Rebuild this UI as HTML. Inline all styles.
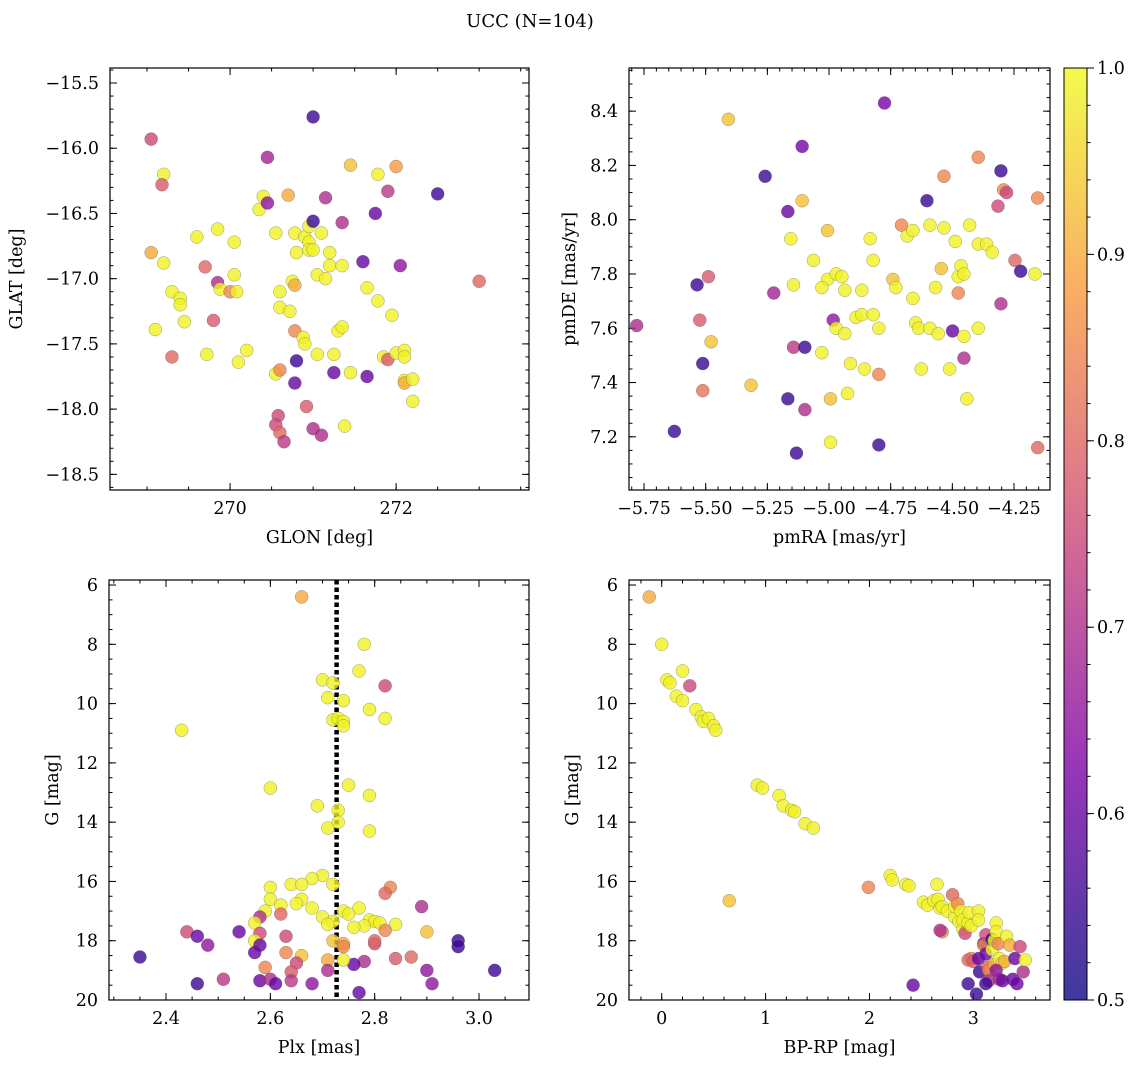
<!DOCTYPE html>
<html><head><meta charset="utf-8"><style>
html,body{margin:0;padding:0;background:#fff;}
svg{display:block;font-family:"DejaVu Serif","Liberation Serif",serif;}
</style></head><body>
<svg id="fig" width="1136" height="1067" viewBox="0 0 1136 1067" xmlns="http://www.w3.org/2000/svg">
<rect width="1136" height="1067" fill="#fff"/>
<text x="530" y="27" font-size="18" text-anchor="middle">UCC (N=104)</text>
</svg>
<script>
// ---- data arrays: [x, y, membership probability] ----
const glonGlat = [[269.05,-15.93,0.75],[269.2,-16.2,0.99],[269.18,-16.28,0.78],[269.05,-16.8,0.9],[269.2,-16.88,0.99],[269.3,-17.1,0.99],[269.4,-17.15,0.99],[269.4,-17.2,0.99],[269.1,-17.39,0.99],[269.3,-17.6,0.8],[269.45,-17.33,0.99],[269.6,-16.68,0.99],[269.7,-16.91,0.8],[269.72,-17.58,0.99],[269.85,-16.62,0.99],[269.85,-17.03,0.7],[269.88,-17.08,0.99],[269.8,-17.32,0.78],[270.0,-17.1,0.85],[270.05,-16.72,0.99],[270.05,-16.97,0.99],[270.08,-17.1,0.99],[270.1,-17.64,0.99],[270.2,-17.55,0.99],[270.35,-16.47,0.99],[270.4,-16.37,0.99],[270.45,-16.42,0.65],[270.45,-16.07,0.68],[270.55,-16.65,0.99],[270.6,-17.1,0.99],[270.6,-17.22,0.99],[270.55,-17.73,0.99],[270.6,-17.7,0.85],[270.58,-18.05,0.75],[270.55,-18.12,0.75],[270.6,-18.18,0.8],[270.65,-18.25,0.72],[270.7,-16.36,0.9],[270.72,-17.25,0.99],[270.75,-17.02,0.99],[270.78,-17.05,0.9],[270.78,-16.65,0.99],[270.8,-16.8,0.99],[270.78,-17.4,0.85],[270.8,-17.63,0.55],[270.78,-17.8,0.6],[270.88,-17.45,0.99],[270.9,-17.5,0.99],[270.9,-16.68,0.99],[270.95,-16.72,0.99],[270.95,-16.6,0.99],[270.95,-16.78,0.99],[271.0,-16.78,0.99],[270.92,-17.98,0.78],[271.0,-16.56,0.55],[271.0,-15.76,0.55],[271.0,-18.15,0.7],[271.05,-16.97,0.99],[271.05,-17.58,0.99],[271.1,-18.2,0.7],[271.1,-16.65,0.99],[271.15,-17.0,0.99],[271.2,-16.9,0.99],[271.2,-16.8,0.99],[271.15,-16.38,0.7],[271.25,-17.58,0.99],[271.25,-17.72,0.6],[271.3,-17.4,0.99],[271.35,-17.37,0.99],[271.35,-16.57,0.7],[271.35,-16.9,0.99],[271.38,-18.13,0.99],[271.45,-16.13,0.93],[271.45,-17.72,0.99],[271.6,-16.87,0.6],[271.65,-17.07,0.99],[271.65,-17.75,0.6],[271.75,-16.5,0.6],[271.78,-16.2,0.99],[271.78,-17.17,0.99],[271.85,-17.6,0.99],[271.9,-17.62,0.78],[271.9,-16.33,0.72],[271.95,-17.28,0.99],[272.0,-16.14,0.88],[272.0,-17.57,0.99],[272.05,-16.9,0.65],[272.1,-17.55,0.99],[272.1,-17.6,0.99],[272.1,-17.78,0.99],[272.1,-17.8,0.9],[272.2,-17.77,0.99],[272.2,-17.94,0.99],[272.5,-16.35,0.55],[273.0,-17.02,0.8]];
const pmraPmde = [[-5.78,7.61,0.7],[-5.627,7.22,0.55],[-5.535,7.76,0.55],[-5.512,7.47,0.55],[-5.524,7.63,0.78],[-5.512,7.37,0.82],[-5.489,7.79,0.78],[-5.478,7.55,0.93],[-5.408,8.37,0.93],[-5.316,7.39,0.93],[-5.259,8.16,0.55],[-5.224,7.73,0.68],[-5.167,8.03,0.6],[-5.155,7.93,0.99],[-5.144,7.76,0.99],[-5.144,7.53,0.72],[-5.167,7.34,0.55],[-5.109,8.27,0.62],[-5.109,8.07,0.93],[-5.098,7.53,0.55],[-5.098,7.3,0.7],[-5.132,7.14,0.55],[-5.063,7.85,0.99],[-5.006,7.78,0.99],[-4.983,7.63,0.65],[-5.029,7.75,0.99],[-5.006,7.96,0.93],[-4.971,7.8,0.99],[-4.971,7.6,0.99],[-5.029,7.51,0.99],[-4.994,7.34,0.93],[-4.994,7.18,0.99],[-4.948,7.79,0.99],[-4.936,7.74,0.99],[-4.936,7.58,0.99],[-4.925,7.36,0.99],[-4.913,7.47,0.99],[-4.890,7.64,0.99],[-4.867,7.65,0.99],[-4.867,7.74,0.99],[-4.856,7.45,0.99],[-4.833,7.93,0.99],[-4.821,7.85,0.99],[-4.821,7.65,0.99],[-4.798,7.6,0.99],[-4.798,7.43,0.85],[-4.798,7.17,0.55],[-4.775,8.43,0.62],[-4.741,7.78,0.93],[-4.729,7.75,0.99],[-4.706,7.98,0.85],[-4.683,7.94,0.99],[-4.660,7.96,0.99],[-4.660,7.71,0.99],[-4.649,7.62,0.99],[-4.637,7.6,0.99],[-4.626,7.45,0.99],[-4.603,8.07,0.55],[-4.591,7.98,0.99],[-4.591,7.6,0.99],[-4.568,7.75,0.99],[-4.557,7.58,0.99],[-4.545,7.82,0.93],[-4.534,7.97,0.99],[-4.534,8.16,0.85],[-4.511,7.45,0.99],[-4.499,7.59,0.6],[-4.488,7.92,0.99],[-4.476,7.73,0.85],[-4.476,7.79,0.99],[-4.465,7.83,0.99],[-4.453,7.8,0.99],[-4.453,7.57,0.99],[-4.453,7.49,0.7],[-4.441,7.34,0.99],[-4.430,7.98,0.99],[-4.395,7.91,0.99],[-4.395,8.23,0.85],[-4.395,7.6,0.99],[-4.361,7.91,0.99],[-4.338,7.88,0.99],[-4.315,8.05,0.75],[-4.303,7.69,0.7],[-4.303,8.18,0.55],[-4.292,8.11,0.85],[-4.280,8.1,0.75],[-4.246,7.85,0.8],[-4.154,8.08,0.85],[-4.223,7.81,0.55],[-4.165,7.8,0.99],[-4.154,7.16,0.8]];
const plxG = [[2.66,6.4,0.9],[2.78,8.0,0.99],[2.77,8.9,0.99],[2.7,9.2,0.99],[2.72,9.3,0.99],[2.82,9.4,0.75],[2.71,9.8,0.99],[2.74,9.9,0.99],[2.79,10.2,0.99],[2.82,10.5,0.99],[2.72,10.55,0.99],[2.73,10.5,0.99],[2.74,10.6,0.99],[2.74,10.75,0.99],[2.43,10.9,0.99],[2.75,12.75,0.99],[2.6,12.85,0.99],[2.79,13.1,0.99],[2.69,13.45,0.99],[2.73,13.6,0.99],[2.73,14.0,0.99],[2.71,14.2,0.99],[2.79,14.3,0.99],[2.7,15.8,0.99],[2.68,15.9,0.99],[2.72,16.1,0.99],[2.64,16.1,0.99],[2.66,16.1,0.99],[2.6,16.2,0.99],[2.83,16.2,0.85],[2.82,16.4,0.8],[2.6,16.6,0.99],[2.66,16.6,0.99],[2.65,16.75,0.99],[2.62,16.8,0.99],[2.68,16.9,0.99],[2.77,16.9,0.99],[2.74,17.0,0.99],[2.75,17.1,0.99],[2.59,17.0,0.99],[2.58,17.2,0.7],[2.62,17.1,0.8],[2.7,17.2,0.99],[2.72,17.35,0.99],[2.71,17.45,0.99],[2.79,17.3,0.99],[2.8,17.35,0.99],[2.78,17.5,0.99],[2.81,17.4,0.99],[2.84,17.45,0.99],[2.76,17.55,0.99],[2.57,17.4,0.99],[2.44,17.7,0.75],[2.46,17.85,0.6],[2.54,17.7,0.6],[2.58,17.75,0.75],[2.63,17.85,0.75],[2.48,18.15,0.65],[2.57,18.0,0.99],[2.58,18.15,0.6],[2.57,18.4,0.6],[2.63,18.4,0.85],[2.66,18.5,0.93],[2.72,18.0,0.93],[2.74,18.1,0.9],[2.74,18.2,0.85],[2.8,18.1,0.75],[2.8,18.0,0.8],[2.82,17.65,0.85],[2.84,18.6,0.78],[2.78,18.7,0.7],[2.76,18.8,0.6],[2.74,18.65,0.99],[2.71,18.65,0.9],[2.65,18.75,0.75],[2.59,18.9,0.85],[2.64,19.05,0.78],[2.64,19.35,0.72],[2.68,19.45,0.65],[2.71,19.0,0.7],[2.58,19.35,0.6],[2.6,19.3,0.7],[2.61,19.45,0.6],[2.51,19.3,0.72],[2.46,19.45,0.55],[2.35,18.55,0.55],[2.77,19.75,0.6],[2.89,16.85,0.7],[2.9,17.7,0.93],[2.87,18.55,0.8],[2.9,19.0,0.65],[2.91,19.45,0.65],[2.96,18.0,0.55],[2.96,18.2,0.55],[3.03,19.0,0.55]];
const bprpG = [[-0.12,6.4,0.9],[0.0,8.0,0.99],[0.2,8.9,0.99],[0.05,9.2,0.99],[0.08,9.3,0.99],[0.27,9.4,0.75],[0.14,9.75,0.99],[0.2,9.9,0.99],[0.33,10.2,0.99],[0.38,10.45,0.99],[0.4,10.6,0.99],[0.45,10.5,0.99],[0.5,10.75,0.99],[0.52,10.9,0.99],[0.92,12.75,0.99],[0.97,12.85,0.99],[1.13,13.1,0.99],[1.17,13.45,0.99],[1.25,13.6,0.99],[1.28,13.65,0.99],[1.38,14.05,0.99],[1.46,14.2,0.99],[0.65,16.65,0.93],[1.99,16.2,0.85],[2.2,15.8,0.99],[2.22,15.95,0.99],[2.35,16.1,0.99],[2.38,16.15,0.99],[2.42,19.5,0.6],[2.52,16.7,0.99],[2.56,16.8,0.99],[2.62,16.65,0.99],[2.65,16.1,0.99],[2.66,16.6,0.99],[2.68,16.9,0.99],[2.7,16.85,0.99],[2.7,17.7,0.85],[2.68,17.65,0.7],[2.75,17.0,0.99],[2.8,16.45,0.8],[2.82,17.2,0.99],[2.82,16.85,0.99],[2.85,16.75,0.85],[2.86,17.35,0.99],[2.88,17.0,0.99],[2.9,17.6,0.99],[2.9,17.3,0.99],[2.92,17.75,0.75],[2.95,17.4,0.99],[2.98,17.5,0.99],[2.96,17.05,0.99],[2.98,18.6,0.85],[2.95,18.65,0.8],[3.0,18.7,0.78],[2.95,19.45,0.55],[3.03,19.8,0.55],[3.05,17.0,0.99],[3.05,17.3,0.99],[3.05,18.6,0.6],[3.06,19.05,0.55],[3.1,18.1,0.55],[3.1,18.15,0.85],[3.12,18.45,0.6],[3.12,17.8,0.75],[3.14,18.9,0.8],[3.15,19.0,0.85],[3.15,19.35,0.7],[3.18,18.3,0.99],[3.18,17.95,0.55],[3.2,18.0,0.99],[3.2,18.8,0.9],[3.22,17.4,0.99],[3.22,17.7,0.99],[3.24,18.1,0.85],[3.25,18.6,0.99],[3.25,19.3,0.7],[3.28,18.75,0.99],[3.28,19.35,0.6],[3.3,18.7,0.9],[3.32,17.85,0.99],[3.35,18.15,0.9],[3.38,19.3,0.6],[3.4,18.6,0.6],[3.42,19.45,0.6],[3.45,18.2,0.75],[3.48,19.05,0.7],[3.5,18.65,0.99],[3.22,19.0,0.65],[3.12,19.45,0.55]];
const plxMedian = 2.727;
const cbarTicks = [0.5,0.6,0.7,0.8,0.9,1.0];

const NS = "http://www.w3.org/2000/svg";
const svg = document.getElementById('fig');
function el(tag, attrs, parent){const e=document.createElementNS(NS,tag);for(const k in attrs)e.setAttribute(k,attrs[k]);(parent||svg).appendChild(e);return e;}
const stops=[[0,[13,8,135]],[0.25,[126,3,168]],[0.5,[204,71,120]],[0.75,[248,149,64]],[1,[240,249,33]]];
function plasma(t){t=Math.max(0,Math.min(1,t));for(let i=0;i<stops.length-1;i++){const a=stops[i],b=stops[i+1];if(t<=b[0]){const f=(t-a[0])/(b[0]-a[0]);return 'rgb('+a[1].map((v,j)=>Math.round(v+(b[1][j]-v)*f)).join(',')+')';}}}
function cmap(p){return plasma((p-0.5)/0.5);}
function fmt(v,d){const s=Math.abs(v).toFixed(d);return (v<-1e-9?'\u2212':'')+s;}
const FS=17.5;

function panel(cfg){
  const g=el('g',{});
  
  
  const {x0,x1,y0,y1,xmin,xmax,ymin,ymax,invY}=cfg;
  const sx=v=>x0+(v-xmin)/(xmax-xmin)*(x1-x0);
  const sy=v=>invY? y0+(v-ymin)/(ymax-ymin)*(y1-y0) : y1-(v-ymin)/(ymax-ymin)*(y1-y0);
  el('rect',{x:x0,y:y0,width:x1-x0,height:y1-y0,fill:'none',stroke:'#000','stroke-width':1.2},g);
  const tk=el('g',{stroke:'#000','stroke-width':1},g);
  const eps=1e-9;
  function ticks(min,max,step){const a=[];let s=Math.ceil(min/step-eps)*step;for(let v=s;v<=max+eps;v+=step)a.push(+v.toFixed(6));return a;}
  ticks(xmin,xmax,cfg.xminor).forEach(v=>{const X=sx(v);el('line',{x1:X,x2:X,y1:y1,y2:y1-3.5},tk);el('line',{x1:X,x2:X,y1:y0,y2:y0+3.5},tk);});
  ticks(Math.min(ymin,ymax),Math.max(ymin,ymax),cfg.yminor).forEach(v=>{const Y=sy(v);el('line',{x1:x0,x2:x0+3.5,y1:Y,y2:Y},tk);el('line',{x1:x1,x2:x1-3.5,y1:Y,y2:Y},tk);});
  ticks(xmin,xmax,cfg.xmajor).forEach(v=>{const X=sx(v);el('line',{x1:X,x2:X,y1:y1,y2:y1-7},tk);el('line',{x1:X,x2:X,y1:y0,y2:y0+7},tk);
    const t=el('text',{x:X,y:y1+24,'font-size':FS,'text-anchor':'middle'},g);t.textContent=fmt(v,cfg.xd);
    
    });
  ticks(Math.min(ymin,ymax),Math.max(ymin,ymax),cfg.ymajor).forEach(v=>{const Y=sy(v);el('line',{x1:x0,x2:x0+7,y1:Y,y2:Y},tk);el('line',{x1:x1,x2:x1-7,y1:Y,y2:Y},tk);
    const t=el('text',{x:x0-11,y:Y+6,'font-size':FS,'text-anchor':'end'},g);t.textContent=fmt(v,cfg.yd);
    
    });
  const xl=el('text',{x:(x0+x1)/2,y:y1+53,'font-size':FS,'text-anchor':'middle'},g);xl.textContent=cfg.xlabel;
  
  
  const ly=cfg.ylx, cy=(y0+y1)/2;
  const yl=el('text',{x:ly,y:cy,'font-size':FS,'text-anchor':'middle',transform:`rotate(-90 ${ly} ${cy})`},g);yl.textContent=cfg.ylabel;
  
  
  if(cfg.vline!==undefined){const X=sx(cfg.vline);const l=el('line',{x1:X,x2:X,y1:y0,y2:y1,stroke:'#000','stroke-width':4.5,'stroke-dasharray':'4.5,3'},g);
    
    }
  const pts=el('g',{},g);
  cfg.data.forEach(d=>{const c=el('circle',{cx:sx(d[0]),cy:sy(d[1]),r:6.5,fill:cmap(d[2]),'fill-opacity':0.8,stroke:'#555','stroke-width':0.4,'stroke-opacity':0.7},pts);
    
    });
}
panel({name:'glon-glat-panel',x0:110,x1:529,y0:68,y1:490,xmin:268.554,xmax:273.6,ymin:-18.62,ymax:-15.385,xmajor:2,xminor:0.5,ymajor:0.5,yminor:0.1,xd:0,yd:1,xlabel:'GLON [deg]',ylabel:'GLAT [deg]',ylx:22,data:glonGlat});
panel({name:'pmra-pmde-panel',x0:629,x1:1050,y0:68,y1:490,xmin:-5.811,xmax:-4.104,ymin:7.004,ymax:8.559,xmajor:0.25,xminor:0.05,ymajor:0.2,yminor:0.05,xd:2,yd:1,xlabel:'pmRA [mas/yr]',ylabel:'pmDE [mas/yr]',ylx:575,data:pmraPmde});
panel({name:'plx-g-panel',x0:109,x1:529,y0:580,y1:1000,xmin:2.2907,xmax:3.0958,ymin:5.83,ymax:20,invY:true,xmajor:0.2,xminor:0.05,ymajor:2,yminor:0.5,xd:1,yd:0,xlabel:'Plx [mas]',ylabel:'G [mag]',ylx:58,vline:plxMedian,data:plxG});
panel({name:'bprp-g-panel',x0:629,x1:1050,y0:580,y1:1000,xmin:-0.315,xmax:3.738,ymin:5.83,ymax:20,invY:true,xmajor:1,xminor:0.2,ymajor:2,yminor:0.5,xd:0,yd:0,xlabel:'BP-RP [mag]',ylabel:'G [mag]',ylx:578,data:bprpG});

// colorbar
const cb=el('g',{});


const cx0=1064,cx1=1087,cy0=68,cy1=1000;
const defs=el('defs',{},cb);const lg=el('linearGradient',{id:'cbg',x1:0,y1:1,x2:0,y2:0},defs);
for(let i=0;i<=20;i++){el('stop',{offset:i/20,'stop-color':plasma(i/20),'stop-opacity':0.8},lg);}
el('rect',{x:cx0,y:cy0,width:cx1-cx0,height:cy1-cy0,fill:'url(#cbg)',stroke:'#000','stroke-width':1},cb);
const cy=v=>cy1-(v-0.5)/0.5*(cy1-cy0);
for(let v=0.5;v<=1.0001;v+=0.02){const Y=cy(v);el('line',{x1:cx1,x2:cx1+3.5,y1:Y,y2:Y,stroke:'#000'},cb);}
cbarTicks.forEach(v=>{const Y=cy(v);el('line',{x1:cx1,x2:cx1+7,y1:Y,y2:Y,stroke:'#000'},cb);
  const t=el('text',{x:cx1+10,y:Y+6,'font-size':FS},cb);t.textContent=v.toFixed(1);
  
  });
</script>
</body></html>
